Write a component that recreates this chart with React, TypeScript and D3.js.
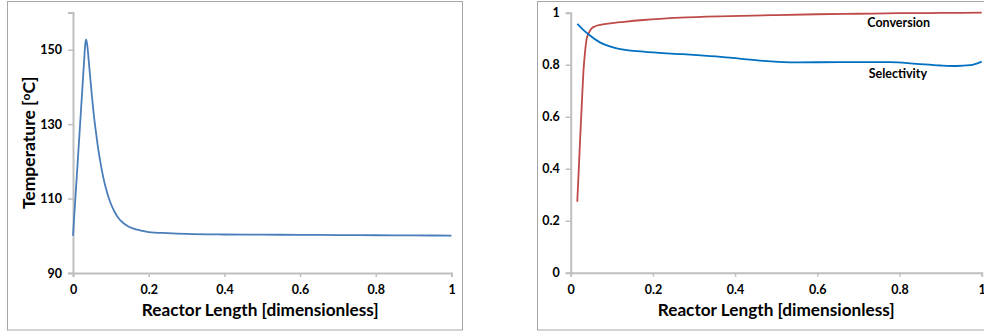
import React, { useEffect, useRef } from 'react';
import * as d3 from 'd3';

// temperature profile along the reactor
const tempX = [0, 0.005, 0.01, 0.015, 0.02, 0.025, 0.029, 0.032, 0.034, 0.036, 0.039, 0.042, 0.046, 0.05, 0.055, 0.06, 0.065, 0.07, 0.08, 0.09, 0.1, 0.11, 0.12, 0.13, 0.14, 0.16, 0.18, 0.2, 0.25, 0.3, 0.4, 0.5, 0.6, 0.7, 0.8, 0.9, 1.0];
const tempY = [100, 108, 116, 124, 132, 140, 146.5, 151, 152.7, 152.3, 150, 146.5, 142, 137.5, 132.5, 128.3, 124.5, 121.2, 115.7, 111.6, 108.6, 106.4, 104.8, 103.7, 102.9, 101.9, 101.4, 101.0, 100.7, 100.5, 100.35, 100.3, 100.25, 100.2, 100.15, 100.1, 100.05];

// conversion and selectivity
const convX = [0.016, 0.02, 0.024, 0.0275, 0.031, 0.035, 0.039, 0.045, 0.051, 0.06, 0.075, 0.0956, 0.13, 0.177, 0.266, 0.387, 0.5, 0.6, 0.7, 0.8, 0.9, 1.0];
const convY = [0.273, 0.41, 0.55, 0.664, 0.775, 0.85, 0.9, 0.925, 0.94, 0.948, 0.954, 0.959, 0.965, 0.972, 0.981, 0.987, 0.991, 0.994, 0.996, 0.998, 0.999, 1.0];
const selX = [0.016, 0.03, 0.043, 0.071, 0.112, 0.177, 0.266, 0.387, 0.469, 0.55, 0.655, 0.777, 0.842, 0.9, 0.939, 0.972, 1.0];
const selY = [0.957, 0.935, 0.917, 0.886, 0.863, 0.85, 0.841, 0.827, 0.815, 0.809, 0.81, 0.81, 0.803, 0.797, 0.795, 0.798, 0.812];

const xTicks = [0, 0.2, 0.4, 0.6, 0.8, 1];
const tempTicks = [90, 110, 130, 150];
const fracTicks = [0, 0.2, 0.4, 0.6, 0.8, 1];

const FONT = 'Lato, "Open Sans", sans-serif';
const AXIS = '#bfbfbf';

function drawAxes(g: any, x: any, y: any, yTicks: number[], h: number) {
  const xa = g.append('g')
    .attr('transform', `translate(0,${h})`)
    .call(d3.axisBottom(x).tickValues(xTicks).tickSize(4).tickPadding(8).tickFormat(d3.format('')));
  const ya = g.append('g')
    .call(d3.axisLeft(y).tickValues(yTicks).tickSize(5).tickPadding(6).tickFormat(d3.format('')));
  [xa, ya].forEach((a) => {
    a.select('.domain').attr('stroke', AXIS).attr('stroke-width', 2);
    a.selectAll('.tick line').attr('stroke', AXIS).attr('stroke-width', 1.5);
    a.selectAll('.tick text')
      .attr('font-family', FONT).attr('font-weight', 700)
      .attr('font-size', 12.5).attr('fill', '#000');
  });
}

export default function App() {
  const ref = useRef<SVGSVGElement>(null);

  useEffect(() => {
    const svg = d3.select(ref.current);
    svg.selectAll('*').remove();

    // frames
    svg.append('rect').attr('x', 7.5).attr('y', 1.5).attr('width', 455).attr('height', 328.5)
      .attr('fill', 'none').attr('stroke', '#a6a6a6');
    svg.append('rect').attr('x', 537.5).attr('y', 1.5).attr('width', 460).attr('height', 328.5)
      .attr('fill', 'none').attr('stroke', '#a6a6a6');

    // left chart
    const l = { left: 73, top: 12.5, w: 378.5, h: 260.5 };
    const x1 = d3.scaleLinear().domain([0, 1]).range([0, l.w]);
    const y1 = d3.scaleLinear().domain([90, 160]).range([l.h, 0]);
    const g1 = svg.append('g').attr('transform', `translate(${l.left},${l.top})`);
    drawAxes(g1, x1, y1, tempTicks, l.h);

    const temp = tempX.map((v, i) => [v, tempY[i]] as [number, number]);
    g1.append('path')
      .datum(temp)
      .attr('fill', 'none')
      .attr('stroke', '#4a7ebb')
      .attr('stroke-width', 1.8)
      .attr('d', d3.line<[number, number]>().x((d) => x1(d[0])).y((d) => y1(d[1])).curve(d3.curveMonotoneX));

    g1.append('text')
      .attr('x', l.w / 2 - 2).attr('y', l.h + 43)
      .attr('text-anchor', 'middle')
      .attr('font-family', FONT).attr('font-weight', 700).attr('font-size', 17.2)
      .text('Reactor Length [dimensionless]');

    const yt = g1.append('text')
      .attr('transform', `translate(-38,${l.h / 2}) rotate(-90)`)
      .attr('text-anchor', 'middle')
      .attr('font-family', FONT).attr('font-weight', 700).attr('font-size', 17.5);
    yt.append('tspan').text('Temperature [');
    yt.append('tspan').attr('font-size', 12).attr('dy', -5).text('o');
    yt.append('tspan').attr('dy', 5).text('C]');

    // right chart
    const r = { left: 570.7, top: 12.7, w: 411, h: 260 };
    const x2 = d3.scaleLinear().domain([0, 1]).range([0, r.w]);
    const y2 = d3.scaleLinear().domain([0, 1]).range([r.h, 0]);
    const g2 = svg.append('g').attr('transform', `translate(${r.left},${r.top})`);
    drawAxes(g2, x2, y2, fracTicks, r.h);

    const line2 = d3.line<[number, number]>().x((d) => x2(d[0])).y((d) => y2(d[1])).curve(d3.curveMonotoneX);
    g2.append('path')
      .datum(convX.map((v, i) => [v, convY[i]] as [number, number]))
      .attr('fill', 'none').attr('stroke', '#be4b48').attr('stroke-width', 1.8)
      .attr('d', line2);
    g2.append('path')
      .datum(selX.map((v, i) => [v, selY[i]] as [number, number]))
      .attr('fill', 'none').attr('stroke', '#0070c0').attr('stroke-width', 1.8)
      .attr('d', line2);

    g2.append('text')
      .attr('x', x2(0.798)).attr('y', y2(0.945))
      .attr('text-anchor', 'middle')
      .attr('font-family', FONT).attr('font-weight', 700).attr('font-size', 12.5)
      .text('Conversion');
    g2.append('text')
      .attr('x', x2(0.796)).attr('y', y2(0.75))
      .attr('text-anchor', 'middle')
      .attr('font-family', FONT).attr('font-weight', 700).attr('font-size', 12.5)
      .text('Selectivity');

    g2.append('text')
      .attr('x', r.w / 2).attr('y', r.h + 43)
      .attr('text-anchor', 'middle')
      .attr('font-family', FONT).attr('font-weight', 700).attr('font-size', 17.2)
      .text('Reactor Length [dimensionless]');
  }, []);

  return (
    <svg ref={ref} width={984} height={334}
      style={{ position: 'absolute', left: 0, top: 0, background: '#fff' }} />
  );
}
